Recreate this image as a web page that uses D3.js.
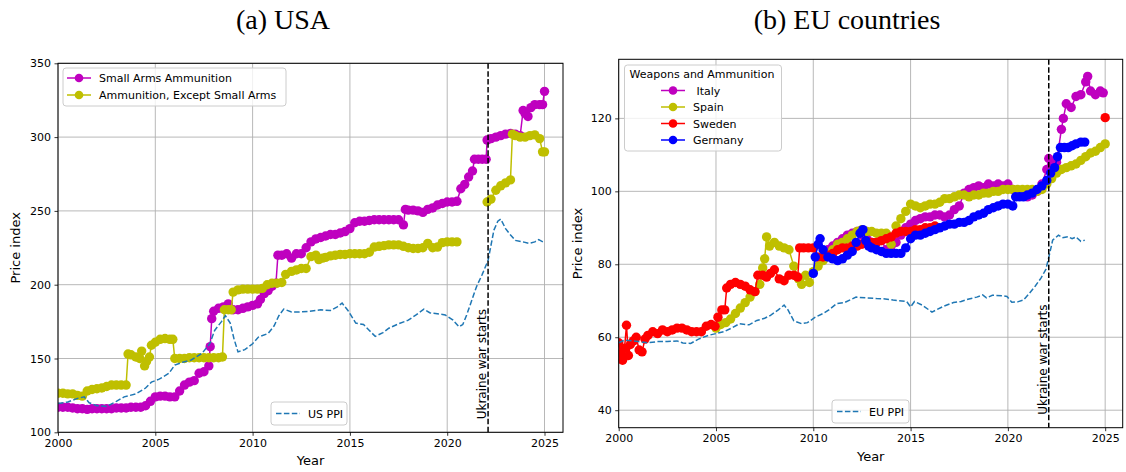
<!DOCTYPE html>
<html>
<head>
<meta charset="utf-8">
<script src="https://cdn.jsdelivr.net/npm/d3@7"></script>
<style>
  body { margin: 0; background: #fff; }
  text { font-family: "DejaVu Sans", sans-serif; }
</style>
</head>
<body>
<svg id="chart" width="1126" height="472"></svg>
<script>
// ---- data (year, index) ----
const yearTicks = [2000, 2005, 2010, 2015, 2020, 2025];
const usaTicks = [100, 150, 200, 250, 300, 350];
const euTicks = [40, 60, 80, 100, 120];
const warStart = 2022.1;

const usaSmallArms = [
  [2000,117],[2000.25,117],[2000.5,117],[2000.75,116.5],[2001,116],[2001.25,116],[2001.5,115.5],[2001.75,116],
  [2002,116],[2002.25,116],[2002.5,116],[2002.75,116],[2003,116.5],[2003.25,116.5],[2003.5,116.5],[2003.75,117],
  [2004,117],[2004.25,117],[2004.5,118],[2004.75,121],[2005,124],[2005.25,124.5],[2005.5,124.5],[2005.75,124],
  [2006,124],[2006.25,128],[2006.5,132],[2006.75,134],[2007,135],[2007.25,140],[2007.5,141],[2007.75,145],
  [2007.82,158],[2007.9,177],[2008,182],[2008.25,184],[2008.5,185],[2008.75,187],[2009,183],[2009.25,183],
  [2009.5,184],[2009.75,185],[2010,186],[2010.25,187],[2010.4,190],[2010.6,194],[2010.8,196],[2011,199],
  [2011.2,201],[2011.3,220],[2011.5,220],[2011.75,221],[2012,218],[2012.25,221],[2012.5,221],[2012.75,225],
  [2013,229],[2013.25,231],[2013.5,232],[2013.75,233],[2014,234],[2014.25,234],[2014.5,235],[2014.75,236],
  [2015,238],[2015.25,242],[2015.5,243],[2015.75,243],[2016,243.5],[2016.25,244],[2016.5,244],[2016.75,244],
  [2017,244],[2017.25,244],[2017.5,244],[2017.75,240.5],[2017.85,251],[2018,250.5],[2018.25,250.5],[2018.5,250],
  [2018.75,249],[2019,251],[2019.25,252],[2019.5,254],[2019.75,255],[2020,256],[2020.25,256],[2020.5,256.5],
  [2020.7,265],[2020.9,268],[2021.1,273],[2021.3,277],[2021.4,285],[2021.6,285],[2021.8,285],[2022,285],
  [2022.05,298],[2022.25,299],[2022.5,300],[2022.75,301],[2023,302],[2023.25,302.5],[2023.5,302],[2023.75,301],
  [2023.9,318],[2024,316],[2024.15,314],[2024.3,320],[2024.5,322],[2024.75,322],[2024.9,322],[2025,331]
];

const usaOtherAmmo = [
  [2000,126.5],[2000.25,126.5],[2000.5,126],[2000.75,126],[2001,125],[2001.25,124.5],[2001.5,128],[2001.75,129],
  [2002,129.5],[2002.25,130],[2002.5,131],[2002.75,132],[2003,132],[2003.25,132],[2003.5,132],[2003.6,153],
  [2003.75,152.5],[2004,151],[2004.2,150],[2004.3,155],[2004.45,145],[2004.55,148],[2004.7,151],[2004.8,159],
  [2005,161],[2005.25,163],[2005.5,163.5],[2005.75,163],[2005.9,163],[2006,150],[2006.25,150],[2006.5,150],
  [2006.75,150.5],[2007,150.5],[2007.25,150.5],[2007.5,150.5],[2007.75,150.5],[2008,150.5],[2008.25,150.5],
  [2008.45,151],[2008.55,183],[2008.75,183],[2008.9,183],[2009,195],[2009.25,196.5],[2009.5,197],[2009.75,197],
  [2010,197],[2010.25,197],[2010.5,197.5],[2010.75,200],[2011,201],[2011.25,201],[2011.5,201.5],[2011.7,207],
  [2012,209],[2012.25,210],[2012.5,211],[2012.75,211],[2013,219],[2013.25,220],[2013.4,217],[2013.6,218],
  [2013.75,218.5],[2014,219.5],[2014.25,220],[2014.5,220.5],[2014.75,220.5],[2015,221],[2015.25,221],[2015.5,221],
  [2015.75,221],[2016,222],[2016.25,225.5],[2016.5,226],[2016.75,226.5],[2017,227],[2017.25,227],[2017.5,227],
  [2017.75,226],[2018,225],[2018.25,224.5],[2018.5,224.5],[2018.75,225],[2019,228],[2019.25,225],[2019.5,225.5],
  [2019.75,228.5],[2020,229],[2020.25,229],[2020.5,229],[2020.6,null],
  [2022.05,256],[2022.25,258],[2022.5,264],[2022.75,267],[2023,269],[2023.25,271],[2023.35,302],[2023.5,301],
  [2023.75,300],[2024,300],[2024.25,301],[2024.5,301.5],[2024.75,299],[2024.9,290],[2025,290]
];

const usPPI = [
  [2000,119.5],[2000.5,120.5],[2001,123],[2001.35,124],[2001.6,120],[2002,118],[2002.5,117.5],[2003,121],
  [2003.4,124],[2004,126],[2004.5,130],[2004.8,134],[2005.2,136],[2005.7,140],[2006,145.5],[2006.4,147.5],
  [2006.85,149],[2007.4,153.5],[2007.8,160],[2008.05,169],[2008.4,175],[2008.6,179],[2008.85,174],[2009.05,163],
  [2009.25,154.5],[2009.6,156],[2010,160],[2010.3,164.5],[2010.8,167],[2011.1,172],[2011.35,179],[2011.6,183.5],
  [2012,181.5],[2012.4,181.5],[2012.9,182],[2013.5,183],[2014,182.5],[2014.35,185],[2014.6,187.5],[2014.9,182.5],
  [2015.3,174],[2015.7,173],[2016,169],[2016.3,165],[2016.7,167.5],[2017,170.5],[2017.5,173.5],[2018,176],
  [2018.4,179.5],[2018.8,183.5],[2019.1,181],[2019.4,180.5],[2019.9,179.5],[2020.3,176],[2020.6,171.5],[2020.8,173],
  [2021,179.5],[2021.25,189],[2021.5,198.5],[2021.8,207],[2022.1,216.5],[2022.4,237],[2022.6,243],[2022.75,244.5],
  [2023,238],[2023.2,234.5],[2023.5,230],[2023.9,229],[2024.2,228],[2024.5,229],[2024.7,230.5],[2025,228.5]
];

const italy = [
  [2010.75,84],[2011,85],[2011.25,86],[2011.5,87],[2011.75,88],[2012,88.5],[2012.25,89],[2012.5,88],[2012.75,87],
  [2013,86],[2013.25,86],[2013.5,86.5],[2013.75,84],[2014,85],[2014.25,86],[2014.5,88],[2014.75,90],[2015,91],
  [2015.25,92],[2015.5,92.5],[2015.75,93],[2016,93],[2016.25,93.5],[2016.5,93.5],[2016.75,93],[2017,93.5],
  [2017.25,95],[2017.5,96],[2017.75,99.5],[2018,100.5],[2018.25,101],[2018.5,101.5],[2018.75,101],[2019,102],
  [2019.25,101.5],[2019.5,102],[2019.75,101.5],[2020,102],[2020.25,100.5],[2020.5,99.5],[2020.75,99],[2021,98.5],
  [2021.25,99],[2021.5,100],[2021.75,102],[2022,106],[2022.1,109],[2022.25,107],[2022.5,108],[2022.75,117],
  [2022.85,120],[2023,124],[2023.25,123],[2023.5,126],[2023.75,126.5],[2024,130],[2024.1,131.5],[2024.25,127.5],
  [2024.5,126.5],[2024.75,127.5],[2024.9,127]
];

const spain = [
  [2005,62.5],[2005.25,63.5],[2005.5,64],[2005.75,65],[2006,66.5],[2006.25,68],[2006.5,69.5],[2006.75,71],
  [2007,72.5],[2007.25,74.5],[2007.4,79],[2007.5,81.5],[2007.6,87.5],[2007.75,85],[2008,86],[2008.25,85],
  [2008.5,84.5],[2008.75,84],[2009,79.5],[2009.25,76],[2009.4,74.5],[2009.6,77],[2009.8,75],[2010,78],
  [2010.25,79.5],[2010.5,81],[2010.75,82.5],[2011,84],[2011.25,85.5],[2011.5,86],[2011.75,87],[2012,88],
  [2012.25,89],[2012.5,89.5],[2012.75,89],[2013,89],[2013.25,88.5],[2013.5,88.5],[2013.75,88.5],[2014,85.5],
  [2014.25,90.5],[2014.5,92.5],[2014.75,94.5],[2015,96.5],[2015.25,96],[2015.5,95.5],[2015.75,96],[2016,96.5],
  [2016.25,96.5],[2016.5,97],[2016.75,98],[2017,98],[2017.25,98.5],[2017.5,99],[2017.75,99],[2018,98.5],
  [2018.25,99],[2018.5,99],[2018.75,99.5],[2019,99.5],[2019.25,100],[2019.5,100],[2019.75,100.5],[2020,100.5],
  [2020.25,100.5],[2020.5,100.5],[2020.75,100.5],[2021,100.5],[2021.25,100.5],[2021.5,100],[2021.75,100.5],
  [2022,102],[2022.25,103.5],[2022.5,105],[2022.75,106],[2023,106.5],[2023.25,107],[2023.5,107.5],[2023.75,108.5],
  [2024,109.5],[2024.25,110.5],[2024.5,111],[2024.75,112],[2025,113]
];

const sweden = [
  [2000,58.5],[2000.1,55.5],[2000.2,53.7],[2000.3,57],[2000.4,63.3],[2000.5,55],[2000.6,58],[2000.75,59],
  [2000.9,60],[2001.05,56.5],[2001.2,56],[2001.35,59.5],[2001.5,60.5],[2001.75,61.5],[2002,61],[2002.25,62],
  [2002.5,61.5],[2002.75,62],[2003,62.5],[2003.25,62.5],[2003.5,62],[2003.75,61.5],[2004,61.5],[2004.25,61.5],
  [2004.5,63],[2004.75,63.5],[2004.95,63],[2005.1,65.5],[2005.3,67.5],[2005.45,67.5],[2005.55,73.5],[2005.75,74.5],
  [2006,75],[2006.25,74.5],[2006.5,74],[2006.75,73],[2007,72.5],[2007.15,77],[2007.4,77],[2007.6,76.5],
  [2007.8,77.5],[2008,78.5],[2008.25,76],[2008.5,75.5],[2008.75,77],[2009,77],[2009.2,76.5],[2009.3,84.5],
  [2009.5,84.5],[2009.75,84.5],[2010,84.5],[2010.2,82],[2010.5,82],[2010.75,82.5],[2011,83],[2011.25,84],
  [2011.5,84.5],[2011.75,84.5],[2012,85],[2012.25,85],[2012.5,85.5],[2012.75,86],[2013,86],[2013.25,86],
  [2013.5,86.5],[2013.75,87],[2014,87.5],[2014.25,88.5],[2014.5,89],[2014.75,89],[2015,89],[2015.25,89.5],
  [2015.5,89.5],[2015.75,90],[2016,90],[2016.25,90.5],[2016.4,null],[2025,120.2]
];

const germany = [
  [2010,77.5],[2010.1,82],[2010.25,85.5],[2010.35,87],[2010.5,84],[2010.75,82],[2011,81.5],[2011.25,81],
  [2011.5,81.5],[2011.75,82.5],[2012,83.5],[2012.2,86],[2012.4,88.5],[2012.55,89.5],[2012.7,86.5],[2012.85,85],
  [2013,84.5],[2013.25,84],[2013.5,83.5],[2013.75,83],[2014,83],[2014.25,83],[2014.5,83],[2014.75,84.5],
  [2015,87],[2015.25,88],[2015.5,88],[2015.75,88.5],[2016,89],[2016.25,89.5],[2016.5,90],[2016.75,90.5],
  [2017,91],[2017.25,91],[2017.5,91.5],[2017.75,91.5],[2018,92],[2018.25,93],[2018.5,93.5],[2018.75,94],
  [2019,95],[2019.25,95.5],[2019.5,96],[2019.75,96.5],[2020,96.5],[2020.25,96],[2020.4,98.5],[2020.6,98.5],
  [2020.8,98.5],[2021,99],[2021.25,99.5],[2021.5,100.5],[2021.75,101.5],[2022,103],[2022.2,105],[2022.4,106.5],
  [2022.55,109.5],[2022.7,112],[2022.9,112],[2023.1,112],[2023.3,112.5],[2023.5,113],[2023.75,113.5],[2023.95,113.5]
];

const euPPI = [
  [2000,58.5],[2000.3,59.2],[2000.7,59],[2001,58.8],[2001.5,58.5],[2002,58.8],[2002.5,58.8],[2003,59],
  [2003.3,58.4],[2003.7,58.3],[2004.1,59.5],[2004.6,60.5],[2005.4,61.5],[2005.8,62.5],[2006.2,63.7],[2006.7,63.4],
  [2007.1,64.6],[2007.5,65.2],[2007.8,66],[2008.2,67.5],[2008.5,68.8],[2008.7,67.5],[2009,64.5],[2009.4,63.7],
  [2009.7,64],[2010.1,65.5],[2010.5,66.5],[2010.8,67.5],[2011.2,69.2],[2011.6,69.5],[2012.2,71],[2012.7,70.8],
  [2013.25,70.6],[2013.7,70.5],[2014.1,70.2],[2014.8,69.8],[2015,68.3],[2015.2,69.8],[2015.6,68.8],[2016.1,66.9],
  [2016.7,68.5],[2017.2,69.5],[2017.6,69.8],[2018,70.5],[2018.4,71],[2018.7,71.6],[2018.9,70.8],[2019.2,71.5],
  [2019.7,71.4],[2019.95,71.2],[2020.2,69.6],[2020.5,69.7],[2020.8,70.2],[2021.1,72],[2021.4,74],[2021.7,76.2],
  [2021.95,78.6],[2022.15,83],[2022.3,86.6],[2022.6,88],[2022.8,87.3],[2023.1,87.6],[2023.3,87],[2023.5,87.5],
  [2023.75,86.3],[2023.95,86.6]
];

const svg = d3.select('#chart');
const markerR = 4.7;

// titles
svg.append('text').attr('x', 283).attr('y', 29).attr('text-anchor', 'middle')
    .style('font-family', '"Liberation Serif", serif').style('font-size', '28px').text('(a) USA');
svg.append('text').attr('x', 847).attr('y', 29).attr('text-anchor', 'middle')
    .style('font-family', '"Liberation Serif", serif').style('font-size', '28px').text('(b) EU countries');

function drawPanel(p) {
  var g = svg.append('g');
  var x = d3.scaleLinear().domain(p.xDomain).range([p.left, p.right]);
  var y = d3.scaleLinear().domain(p.yDomain).range([p.bottom, p.top]);

  // grid
  g.append('g').selectAll('line').data(yearTicks).enter().append('line')
      .attr('x1', d => x(d)).attr('x2', d => x(d)).attr('y1', p.top).attr('y2', p.bottom)
      .attr('stroke', '#b0b0b0').attr('stroke-width', 0.9);
  g.append('g').selectAll('line').data(p.yTicks).enter().append('line')
      .attr('y1', d => y(d)).attr('y2', d => y(d)).attr('x1', p.left).attr('x2', p.right)
      .attr('stroke', '#b0b0b0').attr('stroke-width', 0.9);

  var clipId = 'clip' + p.id;
  svg.append('clipPath').attr('id', clipId).append('rect')
      .attr('x', p.left).attr('y', p.top).attr('width', p.right - p.left).attr('height', p.bottom - p.top);
  var plot = g.append('g').attr('clip-path', `url(#${clipId})`);

  var line = d3.line().defined(d => d[1] != null).x(d => x(d[0])).y(d => y(d[1]));

  p.series.forEach(function(s) {
    plot.append('path').datum(s.data).attr('d', line)
        .attr('fill', 'none').attr('stroke', s.color).attr('stroke-width', 1.5);
    plot.append('g').selectAll('circle').data(s.data.filter(d => d[1] != null)).enter().append('circle')
        .attr('cx', d => x(d[0])).attr('cy', d => y(d[1])).attr('r', markerR).attr('fill', s.color);
  });

  plot.append('path').datum(p.ppi.data).attr('d', line)
      .attr('fill', 'none').attr('stroke', '#1f77b4').attr('stroke-width', 1.5)
      .attr('stroke-dasharray', '5.5,2.4');

  // war line
  plot.append('line').attr('x1', x(warStart)).attr('x2', x(warStart)).attr('y1', p.top).attr('y2', p.bottom)
      .attr('stroke', '#000').attr('stroke-width', 1.5).attr('stroke-dasharray', '5.5,2.4');
  g.append('text')
      .attr('transform', `translate(${x(warStart) - 2},${p.bottom - 13}) rotate(-90)`)
      .style('font-size', '12px').text('Ukraine war starts');

  // axes
  var xAxis = g.append('g').attr('transform', `translate(0,${p.bottom})`)
      .call(d3.axisBottom(x).tickValues(yearTicks).tickFormat(d3.format('d')).tickSize(3.5).tickPadding(3.5));
  var yAxis = g.append('g').attr('transform', `translate(${p.left},0)`)
      .call(d3.axisLeft(y).tickValues(p.yTicks).tickFormat(d3.format('d')).tickSize(3.5).tickPadding(3.5));
  [xAxis, yAxis].forEach(a => {
    a.select('.domain').remove();
    a.selectAll('text').style('font-size', '11px').style('font-family', '"DejaVu Sans", sans-serif').attr('fill', '#000');
    a.selectAll('line').attr('stroke', '#000').attr('stroke-width', 0.8);
  });
  g.append('rect').attr('x', p.left).attr('y', p.top).attr('width', p.right - p.left).attr('height', p.bottom - p.top)
      .attr('fill', 'none').attr('stroke', '#000').attr('stroke-width', 1);

  g.append('text').attr('x', (p.left + p.right) / 2).attr('y', p.bottom + 33).attr('text-anchor', 'middle')
      .style('font-size', '13px').text('Year');
  g.append('text').attr('transform', `translate(${p.yLabelX},${(p.top + p.bottom) / 2}) rotate(-90)`)
      .attr('text-anchor', 'middle').style('font-size', '13px').text('Price index');

  // main legend
  var L = p.legend;
  var lg = g.append('g');
  lg.append('rect').attr('x', L.x).attr('y', L.y).attr('width', L.w).attr('height', L.h).attr('rx', 3)
      .attr('fill', 'rgba(255,255,255,0.8)').attr('stroke', '#cccccc');
  if (L.title) {
    lg.append('text').attr('x', L.x + 5).attr('y', L.y + 13).style('font-size', '11px').text(L.title);
  }
  p.series.forEach(function(s, i) {
    var ry = L.rowY + i * L.rowH;
    lg.append('line').attr('x1', L.hx).attr('x2', L.hx + 24).attr('y1', ry).attr('y2', ry)
        .attr('stroke', s.color).attr('stroke-width', 1.5);
    lg.append('circle').attr('cx', L.hx + 12).attr('cy', ry).attr('r', 4.3).attr('fill', s.color);
    lg.append('text').attr('x', L.hx + 32).attr('y', ry + 4).style('font-size', '11px')
        .style('white-space', 'pre').attr('xml:space', 'preserve').text(s.name);
  });

  // PPI legend
  var P = p.ppiLegend;
  g.append('rect').attr('x', P.x).attr('y', P.y).attr('width', P.w).attr('height', 23).attr('rx', 3)
      .attr('fill', 'rgba(255,255,255,0.8)').attr('stroke', '#cccccc');
  g.append('line').attr('x1', P.x + 5).attr('x2', P.x + 29).attr('y1', P.y + 11.5).attr('y2', P.y + 11.5)
      .attr('stroke', '#1f77b4').attr('stroke-width', 1.5).attr('stroke-dasharray', '5.5,2.4');
  g.append('text').attr('x', P.x + 37).attr('y', P.y + 15.5).style('font-size', '11px').text(p.ppi.name);
}

drawPanel({
  id: 'a', left: 58, right: 563, top: 63.3, bottom: 432.3,
  xDomain: [2000, 2025.95], yDomain: [100, 350], yTicks: usaTicks, yLabelX: 20,
  series: [
    { name: 'Small Arms Ammunition', color: '#bf00bf', data: usaSmallArms },
    { name: 'Ammunition, Except Small Arms', color: '#bfbf00', data: usaOtherAmmo }
  ],
  ppi: { name: 'US PPI', data: usPPI },
  legend: { x: 63, y: 68, w: 223, h: 38, rowY: 78, rowH: 17, hx: 67 },
  ppiLegend: { x: 271, y: 402, w: 76 }
});

drawPanel({
  id: 'b', left: 618.7, right: 1122.7, top: 59.3, bottom: 427.7,
  xDomain: [2000, 2025.9], yDomain: [35.2, 136.2], yTicks: euTicks, yLabelX: 582,
  series: [
    { name: ' Italy', color: '#bf00bf', data: italy },
    { name: 'Spain', color: '#bfbf00', data: spain },
    { name: 'Sweden', color: '#ff0000', data: sweden },
    { name: 'Germany', color: '#0000ff', data: germany }
  ],
  ppi: { name: 'EU PPI', data: euPPI },
  legend: { x: 624.5, y: 65, w: 157, h: 86, title: 'Weapons and Ammunition', rowY: 90.5, rowH: 16.5, hx: 661 },
  ppiLegend: { x: 832, y: 400, w: 77 }
});
</script>
</body>
</html>
